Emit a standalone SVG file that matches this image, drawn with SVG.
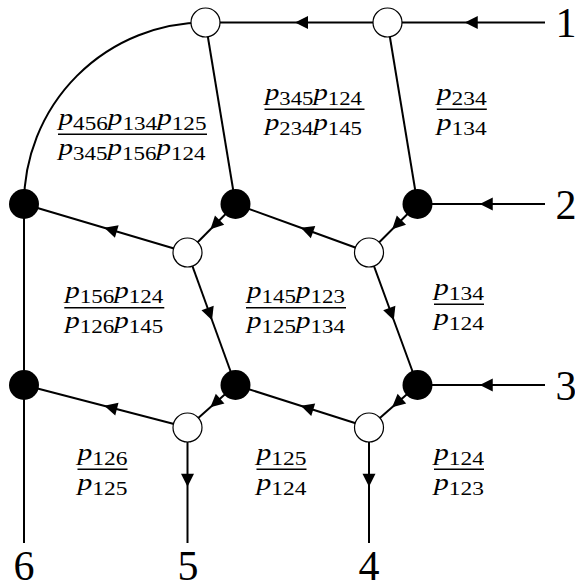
<svg xmlns="http://www.w3.org/2000/svg" width="575" height="588" viewBox="0 0 575 588">
<style>
.e{stroke:#000;stroke-width:2;fill:none}
.a{marker-mid:url(#arr)}
.w{fill:#fff;stroke:#000;stroke-width:1.2}
.b{fill:#000}
.t{font-family:'Liberation Serif','Times New Roman',serif;font-size:24px;text-anchor:middle}
.p{font-style:italic}
.s{font-size:19px}
.bar{stroke:#000;stroke-width:1.6}
.n{font-family:'Liberation Serif','Times New Roman',serif;font-size:42px;text-anchor:middle}
</style>
<defs>
<marker id="arr" viewBox="-15 -7 16 14" refX="-1.5" refY="0" markerWidth="16" markerHeight="14" markerUnits="userSpaceOnUse" orient="auto">
<path d="M0,0 L-13,-6.5 L-13,6.5 Z" fill="#000"/>
</marker>
</defs>
<rect width="575" height="588" fill="#fff"/>
<g id="connectors">
<path class="e" d="M205.5,22.5 A181.5,181.5 0 0 0 24,204"/>
<path class="e" d="M205.5,22.5 L235.5,204"/>
<path class="e" d="M387.5,22.5 L417.5,204"/>
<path class="e" d="M24,204 L24,385"/>
<path class="e" d="M24,385 L24,543"/>
<path class="e a" d="M387.5,22.5 L296.5,22.5 L205.5,22.5"/>
<path class="e a" d="M545,22.5 L466.25,22.5 L387.5,22.5"/>
<path class="e a" d="M545,204 L481.25,204 L417.5,204"/>
<path class="e a" d="M545,385 L481.25,385 L417.5,385"/>
<path class="e a" d="M417.5,204 L393.25,228.25 L369,252.5"/>
<path class="e a" d="M369,252.5 L302.25,228.25 L235.5,204"/>
<path class="e a" d="M369,252.5 L393.25,318.75 L417.5,385"/>
<path class="e a" d="M235.5,204 L211.5,228.25 L187.5,252.5"/>
<path class="e a" d="M187.5,252.5 L105.75,228.25 L24,204"/>
<path class="e a" d="M187.5,252.5 L211.5,318.75 L235.5,385"/>
<path class="e a" d="M235.5,385 L211.5,406.25 L187.5,427.5"/>
<path class="e a" d="M187.5,427.5 L105.75,406.25 L24,385"/>
<path class="e a" d="M187.5,427.5 L187.5,485.25 L187.5,543"/>
<path class="e a" d="M417.5,385 L393.25,406.25 L369,427.5"/>
<path class="e a" d="M369,427.5 L302.25,406.25 L235.5,385"/>
<path class="e a" d="M369,427.5 L369,485.25 L369,543"/>
</g>
<g id="nA"><circle class="w" cx="205.5" cy="22.5" r="14.5"/></g>
<g id="nB"><circle class="w" cx="387.5" cy="22.5" r="14.5"/></g>
<g id="nC"><circle class="b" cx="235.5" cy="204" r="15"/></g>
<g id="nD"><circle class="b" cx="417.5" cy="204" r="15"/></g>
<g id="nH"><circle class="b" cx="24" cy="204" r="15"/></g>
<g id="nG"><circle class="w" cx="187.5" cy="252.5" r="14.5"/></g>
<g id="nE"><circle class="w" cx="369" cy="252.5" r="14.5"/></g>
<g id="nJ"><circle class="b" cx="24" cy="385" r="15"/></g>
<g id="nI"><circle class="b" cx="235.5" cy="385" r="15"/></g>
<g id="nF"><circle class="b" cx="417.5" cy="385" r="15"/></g>
<g id="nK"><circle class="w" cx="187.5" cy="427.5" r="14.5"/></g>
<g id="nL"><circle class="w" cx="369" cy="427.5" r="14.5"/></g>
<g id="ends">
<text class="n" x="566" y="37">1</text>
<text class="n" x="566" y="219">2</text>
<text class="n" x="566" y="400">3</text>
<text class="n" x="369" y="580">4</text>
<text class="n" x="188" y="580">5</text>
<text class="n" x="24" y="580">6</text>
</g>
<g id="f1">
<text class="t" x="132.5" y="125" textLength="148" lengthAdjust="spacingAndGlyphs"><tspan class="p">p</tspan><tspan class="s" dy="5">456</tspan><tspan class="p" dy="-5">p</tspan><tspan class="s" dy="5">134</tspan><tspan class="p" dy="-5">p</tspan><tspan class="s" dy="5">125</tspan></text>
<line class="bar" x1="58" y1="134.3" x2="207" y2="134.3"/>
<text class="t" x="132" y="155" textLength="147" lengthAdjust="spacingAndGlyphs"><tspan class="p">p</tspan><tspan class="s" dy="4.5">345</tspan><tspan class="p" dy="-4.5">p</tspan><tspan class="s" dy="4.5">156</tspan><tspan class="p" dy="-4.5">p</tspan><tspan class="s" dy="4.5">124</tspan></text>
</g>
<g id="f2">
<text class="t" x="313.5" y="100" textLength="97" lengthAdjust="spacingAndGlyphs"><tspan class="p">p</tspan><tspan class="s" dy="5">345</tspan><tspan class="p" dy="-5">p</tspan><tspan class="s" dy="5">124</tspan></text>
<line class="bar" x1="264.5" y1="109.3" x2="364.5" y2="109.3"/>
<text class="t" x="313.5" y="130" textLength="97" lengthAdjust="spacingAndGlyphs"><tspan class="p">p</tspan><tspan class="s" dy="4.5">234</tspan><tspan class="p" dy="-4.5">p</tspan><tspan class="s" dy="4.5">145</tspan></text>
</g>
<g id="f3">
<text class="t" x="461.8" y="100" textLength="50" lengthAdjust="spacingAndGlyphs"><tspan class="p">p</tspan><tspan class="s" dy="5">234</tspan></text>
<line class="bar" x1="436.8" y1="109.3" x2="486.8" y2="109.3"/>
<text class="t" x="461.8" y="130" textLength="50" lengthAdjust="spacingAndGlyphs"><tspan class="p">p</tspan><tspan class="s" dy="4.5">134</tspan></text>
</g>
<g id="f4">
<text class="t" x="114.3" y="298.4" textLength="98" lengthAdjust="spacingAndGlyphs"><tspan class="p">p</tspan><tspan class="s" dy="5">156</tspan><tspan class="p" dy="-5">p</tspan><tspan class="s" dy="5">124</tspan></text>
<line class="bar" x1="64.3" y1="307.7" x2="164.3" y2="307.7"/>
<text class="t" x="114.3" y="328.4" textLength="98" lengthAdjust="spacingAndGlyphs"><tspan class="p">p</tspan><tspan class="s" dy="4.5">126</tspan><tspan class="p" dy="-4.5">p</tspan><tspan class="s" dy="4.5">145</tspan></text>
</g>
<g id="f5">
<text class="t" x="296" y="298.4" textLength="98" lengthAdjust="spacingAndGlyphs"><tspan class="p">p</tspan><tspan class="s" dy="5">145</tspan><tspan class="p" dy="-5">p</tspan><tspan class="s" dy="5">123</tspan></text>
<line class="bar" x1="246" y1="307.7" x2="346" y2="307.7"/>
<text class="t" x="296" y="328.4" textLength="98" lengthAdjust="spacingAndGlyphs"><tspan class="p">p</tspan><tspan class="s" dy="4.5">125</tspan><tspan class="p" dy="-4.5">p</tspan><tspan class="s" dy="4.5">134</tspan></text>
</g>
<g id="f6">
<text class="t" x="459" y="295" textLength="50" lengthAdjust="spacingAndGlyphs"><tspan class="p">p</tspan><tspan class="s" dy="5">134</tspan></text>
<line class="bar" x1="434" y1="304.3" x2="484" y2="304.3"/>
<text class="t" x="459" y="325" textLength="50" lengthAdjust="spacingAndGlyphs"><tspan class="p">p</tspan><tspan class="s" dy="4.5">124</tspan></text>
</g>
<g id="f7">
<text class="t" x="102.5" y="460" textLength="50" lengthAdjust="spacingAndGlyphs"><tspan class="p">p</tspan><tspan class="s" dy="5">126</tspan></text>
<line class="bar" x1="77.5" y1="469.3" x2="127.5" y2="469.3"/>
<text class="t" x="102.5" y="490" textLength="50" lengthAdjust="spacingAndGlyphs"><tspan class="p">p</tspan><tspan class="s" dy="4.5">125</tspan></text>
</g>
<g id="f8">
<text class="t" x="281.5" y="460" textLength="50" lengthAdjust="spacingAndGlyphs"><tspan class="p">p</tspan><tspan class="s" dy="5">125</tspan></text>
<line class="bar" x1="256.5" y1="469.3" x2="306.5" y2="469.3"/>
<text class="t" x="281.5" y="490" textLength="50" lengthAdjust="spacingAndGlyphs"><tspan class="p">p</tspan><tspan class="s" dy="4.5">124</tspan></text>
</g>
<g id="f9">
<text class="t" x="459" y="460" textLength="50" lengthAdjust="spacingAndGlyphs"><tspan class="p">p</tspan><tspan class="s" dy="5">124</tspan></text>
<line class="bar" x1="434" y1="469.3" x2="484" y2="469.3"/>
<text class="t" x="459" y="490" textLength="50" lengthAdjust="spacingAndGlyphs"><tspan class="p">p</tspan><tspan class="s" dy="4.5">123</tspan></text>
</g>
</svg>
